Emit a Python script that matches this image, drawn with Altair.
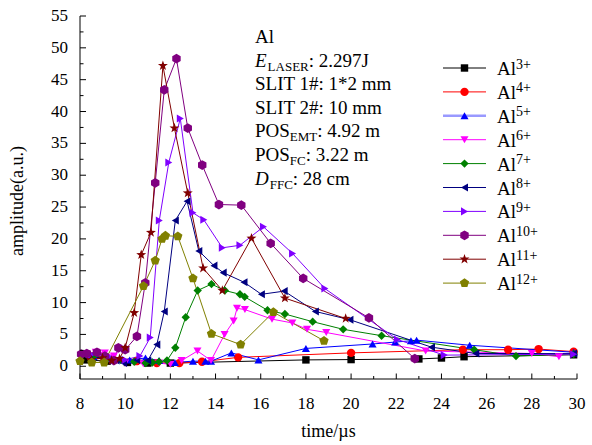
import altair as alt
import pandas as pd

# ---------------- data ----------------
ions = ["Al3+", "Al4+", "Al5+", "Al6+", "Al7+", "Al8+", "Al9+", "Al10+", "Al11+", "Al12+"]
colors = ["#000000", "#FF0000", "#0000FF", "#FF00FF", "#008000",
          "#000080", "#8000FF", "#800080", "#800000", "#808000"]

t_al3 = [8.3, 9.2, 10.1, 11.0, 12.0, 18.0, 20.0, 23.0, 24.0, 25.0, 29.85]
a_al3 = [1.0, 0.8, 0.6, 0.5, 0.5, 1.0, 1.05, 1.15, 1.3, 1.5, 1.8]

t_al4 = [8.5, 9.5, 10.5, 11.4, 12.4, 13.4, 15.0, 20.0, 24.95, 26.95, 28.3, 29.85]
a_al4 = [1.3, 1.0, 0.8, 0.5, 0.5, 0.7, 1.4, 2.1, 2.6, 2.6, 2.7, 2.3]

t_al5 = [8.6, 9.4, 10.2, 10.9, 11.5, 12.2, 13.0, 13.55, 13.8, 14.7, 15.9, 18.0,
         20.95, 21.95, 22.65, 22.9, 25.25, 29.85]
a_al5 = [1.5, 1.2, 1.0, 1.3, 0.9, 0.6, 0.8, 0.8, 0.8, 2.1, 1.0, 2.8,
         3.5, 3.8, 4.0, 4.1, 3.3, 2.2]

t_al6 = [8.3, 8.7, 9.1, 9.5, 10.0, 10.8, 11.5, 12.0, 12.5, 13.2, 13.8, 14.4, 14.8,
         14.95, 15.3, 16.5, 17.4, 18.05, 18.9, 23.3, 28.0, 29.2]
a_al6 = [2.0, 2.2, 2.1, 1.6, 0.5, 0.4, 0.5, 0.3, 0.9, 2.4, 0.9, 5.0, 7.1,
         9.1, 8.9, 7.4, 6.8, 5.8, 5.3, 2.4, 2.0, 1.5]

t_al7 = [8.1, 8.6, 9.2, 9.8, 10.4, 10.9, 11.2, 11.5, 11.85, 12.22, 12.68, 13.21, 13.82,
         14.41, 15.08, 15.29, 16.3, 17.07, 18.3, 19.65, 21.35, 25.45, 27.3, 29.85]
a_al7 = [1.8, 1.5, 1.3, 1.0, 0.7, 0.5, 0.6, 0.7, 0.9, 2.9, 7.7, 11.9, 12.9,
         11.9, 11.3, 10.9, 8.8, 8.2, 7.0, 5.8, 4.8, 2.6, 1.6, 1.9]

t_al8 = [8.4, 9.0, 9.6, 9.93, 10.5, 11.0, 11.4, 11.73, 12.22, 12.74, 13.26, 13.93, 14.34,
         15.26, 16.03, 17.04, 18.42, 19.95, 23.56, 25.52, 29.85]
a_al8 = [1.5, 1.3, 0.9, 0.5, 1.0, 0.9, 3.4, 8.6, 22.9, 25.9, 18.1, 15.8, 14.7,
         13.2, 11.3, 11.8, 8.6, 7.3, 3.0, 2.0, 2.0]

t_al9 = [8.5, 9.3, 10.0, 10.65, 11.11, 11.51, 11.93, 12.44, 13.0, 13.48, 14.3, 15.08,
         16.12, 17.41, 18.84, 22.05, 24.12, 29.85]
a_al9 = [1.8, 1.5, 1.0, 1.6, 4.5, 22.9, 32.0, 38.9, 24.1, 23.0, 18.6, 19.0,
         21.9, 17.7, 12.2, 4.2, 1.75, 1.9]

t_al10 = [8.05, 8.3, 8.75, 9.1, 9.5, 9.7, 10.0, 10.52, 10.89, 11.33, 11.73, 12.27, 12.77,
          13.41, 14.15, 15.14, 16.44, 17.88, 20.79, 22.82]
a_al10 = [1.9, 2.0, 2.2, 1.6, 0.9, 2.9, 2.6, 4.7, 13.1, 28.8, 43.4, 48.3, 37.4,
          31.6, 25.4, 25.3, 19.3, 13.8, 7.6, 1.2]

t_al11 = [8.5, 9.0, 9.4, 9.75, 10.0, 10.4, 10.71, 11.14, 11.67, 12.18, 12.77, 13.45,
          14.3, 15.59, 17.07, 19.76]
a_al11 = [1.0, 1.3, 0.9, 1.2, 2.9, 8.4, 17.5, 21.0, 47.2, 37.4, 27.2, 15.4,
          11.9, 20.1, 10.7, 7.5]

t_al12 = [8.0, 8.52, 9.07, 10.81, 11.33, 11.63, 11.78, 12.33, 13.0, 13.82, 15.11, 16.56, 18.8]
a_al12 = [0.8, 0.6, 0.6, 12.6, 16.6, 20.0, 20.5, 20.4, 13.8, 5.1, 3.4, 8.5, 4.0]

series_t = [t_al3, t_al4, t_al5, t_al6, t_al7, t_al8, t_al9, t_al10, t_al11, t_al12]
series_a = [a_al3, a_al4, a_al5, a_al6, a_al7, a_al8, a_al9, a_al10, a_al11, a_al12]

x_ticks = list(range(8, 31, 2))
x_minor = list(range(9, 30, 2))
y_ticks = list(range(0, 56, 5))
y_minor = [v + 2.5 for v in range(0, 55, 5)]

x_title = "time/µs"
y_title = "amplitude(a.u.)"

# ---------------- styles ----------------
HEX = "M0,-1L0.866,-0.5L0.866,0.5L0,1L-0.866,0.5L-0.866,-0.5Z"
STAR = ("M0,-1L0.235,-0.324L0.951,-0.309L0.38,0.124L0.588,0.809L0,0.4"
        "L-0.588,0.809L-0.38,0.124L-0.951,-0.309L-0.235,-0.324Z")
PENT = "M0,-1L0.951,-0.309L0.588,0.809L-0.588,0.809L-0.951,-0.309Z"
shapes = ["square", "circle", "triangle-up", "triangle-down", "diamond",
          "triangle-left", "triangle-right", HEX, STAR, PENT]
msize = [55, 70, 65, 65, 70, 65, 65, 95, 110, 95]

FONT = "Liberation Serif"
W, H = 497, 363

rows = []
for ion, ts, as_ in zip(ions, series_t, series_a):
    for i, (t, a) in enumerate(zip(ts, as_)):
        rows.append({"ion": ion, "t": t, "amp": a, "idx": i})
df = pd.DataFrame(rows)

xs = alt.Scale(domain=[8, 30], nice=False, zero=False)
ys = alt.Scale(domain=[-2, 55], nice=False, zero=False)
cs = alt.Scale(domain=ions, range=colors)
ss = alt.Scale(domain=ions, range=shapes)


def X(f="t:Q"):
    return alt.X(f, scale=xs, axis=None)


def Y(f="amp:Q"):
    return alt.Y(f, scale=ys, axis=None)


layers = []
dummy = pd.DataFrame({"d": [0]})

# axis lines
layers.append(alt.Chart(dummy).mark_rule(color="black", strokeWidth=1).encode(
    x=alt.value(0), x2=alt.value(W), y=alt.value(H)))
layers.append(alt.Chart(dummy).mark_rule(color="black", strokeWidth=1).encode(
    x=alt.value(0), y=alt.value(0), y2=alt.value(H)))

# data lines and markers
layers.append(alt.Chart(df).mark_line(strokeWidth=1).encode(
    x=X(), y=Y(),
    color=alt.Color("ion:N", scale=cs, legend=None),
    detail="ion:N", order="idx:Q"))
for ion, sz in zip(ions, msize):
    layers.append(alt.Chart(df[df.ion == ion]).mark_point(filled=True, opacity=1, size=sz,
                                                         strokeWidth=0).encode(
        x=X(), y=Y(),
        color=alt.Color("ion:N", scale=cs, legend=None),
        shape=alt.Shape("ion:N", scale=ss, legend=None)))

# inward ticks
layers.append(alt.Chart(pd.DataFrame({"amp": y_ticks})).mark_rule(color="black").encode(
    y=Y(), x=alt.value(0), x2=alt.value(6)))
layers.append(alt.Chart(pd.DataFrame({"amp": y_minor})).mark_rule(color="black").encode(
    y=Y(), x=alt.value(0), x2=alt.value(3.5)))
layers.append(alt.Chart(pd.DataFrame({"t": x_ticks})).mark_rule(color="black").encode(
    x=X(), y=alt.value(H), y2=alt.value(H - 5.5)))
layers.append(alt.Chart(pd.DataFrame({"t": x_minor})).mark_rule(color="black").encode(
    x=X(), y=alt.value(H), y2=alt.value(H - 3)))

# tick labels
layers.append(alt.Chart(pd.DataFrame({"amp": y_ticks, "lab": [str(v) for v in y_ticks]}))
              .mark_text(font=FONT, fontSize=17, align="right", baseline="middle",
                         color="black")
              .encode(y=Y(), x=alt.value(-12), text="lab:N"))
layers.append(alt.Chart(pd.DataFrame({"t": x_ticks, "lab": [str(v) for v in x_ticks]}))
              .mark_text(font=FONT, fontSize=17, align="center", baseline="middle",
                         color="black")
              .encode(x=X(), y=alt.value(H + 25), text="lab:N"))

# axis titles
layers.append(alt.Chart(dummy).mark_text(font=FONT, fontSize=18, align="center",
                                         baseline="middle", color="black").encode(
    x=alt.value(W / 2), y=alt.value(H + 53), text=alt.value(x_title)))
layers.append(alt.Chart(dummy).mark_text(font=FONT, fontSize=18, align="center",
                                         baseline="middle", color="black", angle=270).encode(
    x=alt.value(-62), y=alt.value(185), text=alt.value(y_title)))

# ---------------- annotation text ----------------
WID = {' ': 250, '#': 500, '*': 500, ':': 278, '.': 250, 'A': 722, 'C': 667, 'D': 722,
       'E': 611, 'F': 556, 'I': 333, 'J': 389, 'L': 611, 'M': 889, 'O': 722, 'P': 556,
       'R': 667, 'S': 556, 'T': 611, 'l': 278, 'm': 778, 'c': 444, '+': 564}


def tw(s, size):
    return sum(WID.get(c, 500) for c in s) * size / 1000.0


FS, SUB = 19, 13
ann = [
    [("Al", "n")],
    [("E", "i"), ("LASER", "s"), (": 2.297J", "n")],
    [("SLIT 1#: 1*2 mm", "n")],
    [("SLIT 2#: 10 mm", "n")],
    [("POS", "n"), ("EMT", "s"), (": 4.92 m", "n")],
    [("POS", "n"), ("FC", "s"), (": 3.22 m", "n")],
    [("D", "i"), ("FFC", "s"), (": 28 cm", "n")],
]
x0 = 175
for li, segs in enumerate(ann):
    by = 27 + li * 23.6
    cx = x0
    for txt, st in segs:
        size = SUB if st == "s" else FS
        yy = by + 4 if st == "s" else by
        layers.append(alt.Chart(dummy).mark_text(
            font=FONT, fontSize=size, align="left", baseline="alphabetic", color="black",
            fontStyle="italic" if st == "i" else "normal").encode(
            x=alt.value(cx), y=alt.value(yy), text=alt.value(txt)))
        cx += tw(txt, size) + (1 if st == "i" else 0)

# ---------------- legend ----------------
for i, (ion, col, shp, sz) in enumerate(zip(ions, colors, shapes, msize)):
    cy = 52 + i * 23.9
    lcol = "#9999FF" if ion == "Al5+" else col
    lw = 2.5 if ion == "Al5+" else 1
    layers.append(alt.Chart(dummy).mark_rule(color=lcol, strokeWidth=lw).encode(
        x=alt.value(363), x2=alt.value(406), y=alt.value(cy)))
    layers.append(alt.Chart(dummy).mark_point(shape=shp, filled=True, opacity=1, size=sz,
                                              color=col, strokeWidth=0).encode(
        x=alt.value(384.5), y=alt.value(cy)))
    layers.append(alt.Chart(dummy).mark_text(font=FONT, fontSize=19, align="left",
                                             baseline="alphabetic", color="black").encode(
        x=alt.value(417), y=alt.value(cy + 7), text=alt.value("Al")))
    layers.append(alt.Chart(dummy).mark_text(font=FONT, fontSize=14, align="left",
                                             baseline="alphabetic", color="black").encode(
        x=alt.value(417 + tw("Al", 19)), y=alt.value(cy + 0.5),
        text=alt.value(ion[2:])))

chart = alt.layer(*layers).properties(
    width=W, height=H,
    padding={"left": 80, "top": 16, "right": 15, "bottom": 66},
    autosize=alt.AutoSizeParams(type="none"),
    background="white",
).configure_view(strokeWidth=0)

chart.save("out.html", embed_options={"renderer": "svg", "actions": False})
